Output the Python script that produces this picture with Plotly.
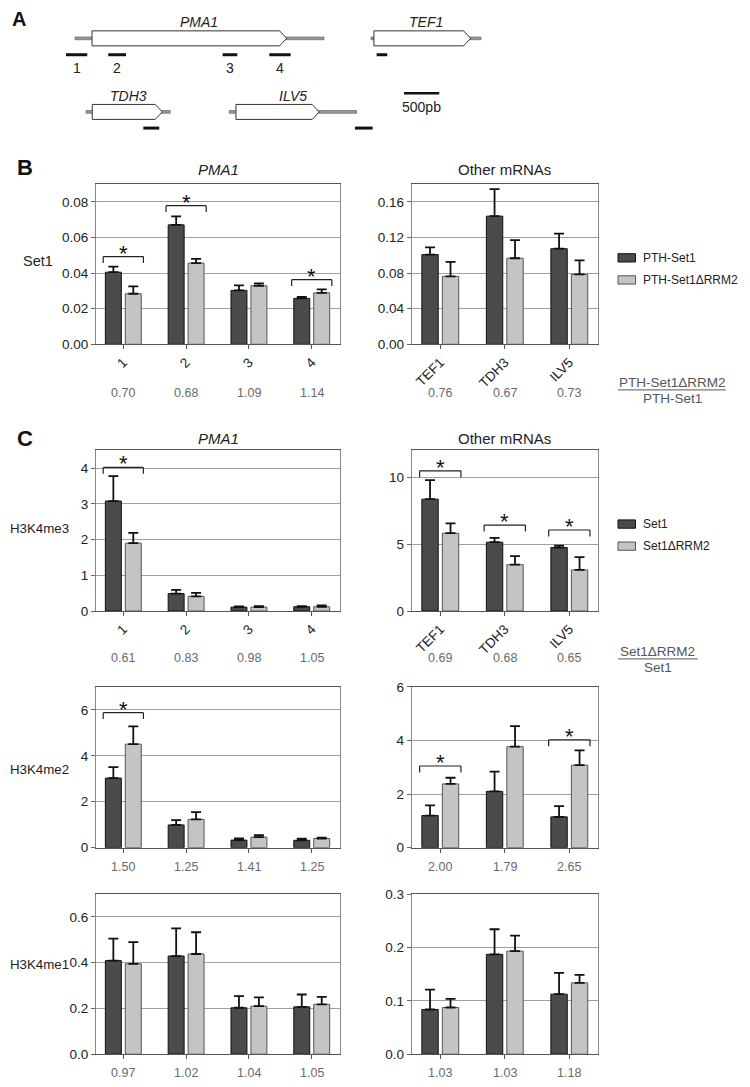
import plotly.graph_objects as go

# the page adds an 8px body margin, so the figure is drawn 16px smaller
# and every position below is given in page pixels, then shifted
OFF = 8
W, H = 750 - 2 * OFF, 1087 - 2 * OFF
FONT = "Liberation Sans, Arial, Helvetica, sans-serif"
NARROW = "Liberation Sans Narrow, Arial Narrow, Liberation Sans, sans-serif"
DARK = "#4b4b4b"
LIGHT = "#c4c4c4"
BP_PER_PX = 500 / 35.33

# ---- data -------------------------------------------------------------
pma1_sites = ["1", "2", "3", "4"]
other_genes = ["TEF1", "TDH3", "ILV5"]

# B  Set1 occupancy (PTH-Set1 / PTH-Set1dRRM2), mean and SE
set1_pma1_wt = [0.0405, 0.0671, 0.0303, 0.0258]
set1_pma1_wt_se = [0.0031, 0.0048, 0.0028, 0.0008]
set1_pma1_mut = [0.0284, 0.0456, 0.0329, 0.0289]
set1_pma1_mut_se = [0.0042, 0.0024, 0.0013, 0.0020]
set1_other_wt = [0.1008, 0.144, 0.1074]
set1_other_wt_se = [0.0082, 0.0304, 0.017]
set1_other_mut = [0.0763, 0.0967, 0.0785]
set1_other_mut_se = [0.0163, 0.0203, 0.0159]
set1_pma1_ratio = ["0.70", "0.68", "1.09", "1.14"]
set1_other_ratio = ["0.76", "0.67", "0.73"]

# C  H3K4me3
me3_pma1_wt = [3.08, 0.49, 0.11, 0.12]
me3_pma1_wt_se = [0.70, 0.10, 0.02, 0.02]
me3_pma1_mut = [1.90, 0.41, 0.11, 0.12]
me3_pma1_mut_se = [0.29, 0.10, 0.03, 0.04]
me3_other_wt = [8.35, 5.14, 4.74]
me3_other_wt_se = [1.43, 0.32, 0.15]
me3_other_mut = [5.81, 3.46, 3.07]
me3_other_mut_se = [0.74, 0.64, 0.96]
me3_pma1_ratio = ["0.61", "0.83", "0.98", "1.05"]
me3_other_ratio = ["0.69", "0.68", "0.65"]

# C  H3K4me2
me2_pma1_wt = [3.03, 0.99, 0.33, 0.32]
me2_pma1_wt_se = [0.48, 0.21, 0.07, 0.07]
me2_pma1_mut = [4.51, 1.23, 0.46, 0.40]
me2_pma1_mut_se = [0.77, 0.32, 0.09, 0.04]
me2_other_wt = [1.20, 2.10, 1.15]
me2_other_wt_se = [0.38, 0.74, 0.40]
me2_other_mut = [2.38, 3.77, 3.08]
me2_other_mut_se = [0.23, 0.77, 0.55]
me2_pma1_ratio = ["1.50", "1.25", "1.41", "1.25"]
me2_other_ratio = ["2.00", "1.79", "2.65"]

# C  H3K4me1
me1_pma1_wt = [0.409, 0.429, 0.203, 0.207]
me1_pma1_wt_se = [0.096, 0.121, 0.051, 0.054]
me1_pma1_mut = [0.395, 0.438, 0.210, 0.218]
me1_pma1_mut_se = [0.095, 0.095, 0.038, 0.033]
me1_other_wt = [0.0838, 0.187, 0.1125]
me1_other_wt_se = [0.037, 0.047, 0.040]
me1_other_mut = [0.0875, 0.193, 0.1336]
me1_other_mut_se = [0.016, 0.029, 0.015]
me1_pma1_ratio = ["0.97", "1.02", "1.04", "1.05"]
me1_other_ratio = ["1.03", "1.03", "1.18"]

# significance brackets: (category index, bracket height)
sig_set1_pma1 = [(0, 0.0493), (1, 0.0779), (3, 0.0363)]
sig_me3_pma1 = [(0, 4.02)]
sig_me3_other = [(0, 10.47), (1, 6.42), (2, 6.05)]
sig_me2_pma1 = [(0, 5.88)]
sig_me2_other = [(0, 3.05), (2, 4.03)]

# A  gene models (bp, position along the drawing row)
gene_names = ["PMA1", "TEF1", "TDH3", "ILV5"]
gene_rows = [0, 0, 1, 1]
gene_tx_start = [1061, 5250, 1217, 3245]
gene_orf_start = [1302, 5292, 1306, 3339]
gene_orf_end = [4057, 6661, 2297, 4518]
gene_tx_end = [4585, 6806, 2410, 5047]
amplicon_labels = ["1", "2", "3", "4", "", "", ""]
amplicon_rows = [0, 0, 0, 0, 0, 1, 1]
amplicon_start = [934, 1532, 3151, 3811, 5330, 2028, 5023]
amplicon_end = [1235, 1783, 3358, 4113, 5480, 2254, 5274]
scale_bar_bp = 500

# ---- helpers ----------------------------------------------------------
def fx(px):
    return (px - OFF) / W


def fy(py):
    return 1 - (py - OFF) / H


fig = go.Figure()
shapes = []
annotations = []

panels = [
    dict(cats=pma1_sites, wt=set1_pma1_wt, wse=set1_pma1_wt_se, mut=set1_pma1_mut,
         mse=set1_pma1_mut_se, ratio=set1_pma1_ratio, yr=[0, 0.09], dt=0.02, fmt=".2f",
         col=0, row=0, sig=sig_set1_pma1, labels=True),
    dict(cats=other_genes, wt=set1_other_wt, wse=set1_other_wt_se, mut=set1_other_mut,
         mse=set1_other_mut_se, ratio=set1_other_ratio, yr=[0, 0.18], dt=0.04, fmt=".2f",
         col=1, row=0, sig=[], labels=True),
    dict(cats=pma1_sites, wt=me3_pma1_wt, wse=me3_pma1_wt_se, mut=me3_pma1_mut,
         mse=me3_pma1_mut_se, ratio=me3_pma1_ratio, yr=[0, 4.5], dt=1, fmt="d",
         col=0, row=1, sig=sig_me3_pma1, labels=True),
    dict(cats=other_genes, wt=me3_other_wt, wse=me3_other_wt_se, mut=me3_other_mut,
         mse=me3_other_mut_se, ratio=me3_other_ratio, yr=[0, 12], dt=5, fmt="d",
         col=1, row=1, sig=sig_me3_other, labels=True),
    dict(cats=pma1_sites, wt=me2_pma1_wt, wse=me2_pma1_wt_se, mut=me2_pma1_mut,
         mse=me2_pma1_mut_se, ratio=me2_pma1_ratio, yr=[0, 7], dt=2, fmt="d",
         col=0, row=2, sig=sig_me2_pma1, labels=False),
    dict(cats=other_genes, wt=me2_other_wt, wse=me2_other_wt_se, mut=me2_other_mut,
         mse=me2_other_mut_se, ratio=me2_other_ratio, yr=[0, 6], dt=2, fmt="d",
         col=1, row=2, sig=sig_me2_other, labels=False),
    dict(cats=pma1_sites, wt=me1_pma1_wt, wse=me1_pma1_wt_se, mut=me1_pma1_mut,
         mse=me1_pma1_mut_se, ratio=me1_pma1_ratio, yr=[0, 0.7], dt=0.2, fmt=".1f",
         col=0, row=3, sig=[], labels=False),
    dict(cats=other_genes, wt=me1_other_wt, wse=me1_other_wt_se, mut=me1_other_mut,
         mse=me1_other_mut_se, ratio=me1_other_ratio, yr=[0, 0.3], dt=0.1, fmt=".1f",
         col=1, row=3, sig=[], labels=False),
]

col_px = [(96, 340), (411.7, 597.7)]
col_xrange = [[-0.435, 3.45], [-0.443, 2.44]]
row_px = [(179.5, 342), (449.5, 612.5), (689.5, 852.5), (899.5, 1062)]
ratio_y = [391, 660, 872, 1081]

layout_axes = {}
for i, p in enumerate(panels, start=1):
    xa, ya = f"x{i}", f"y{i}"
    x0, x1 = col_px[p["col"]]
    y0, y1 = row_px[p["row"]]
    fig.add_trace(go.Bar(
        x=p["cats"], y=p["wt"], xaxis=xa, yaxis=ya, showlegend=False,
        marker=dict(color=DARK, line=dict(color="#111", width=1)),
        error_y=dict(type="data", symmetric=False, array=p["wse"],
                     arrayminus=[0] * len(p["wse"]), color="#111", thickness=1.8, width=5),
        hoverinfo="y",
    ))
    fig.add_trace(go.Bar(
        x=p["cats"], y=p["mut"], xaxis=xa, yaxis=ya, showlegend=False,
        marker=dict(color=LIGHT, line=dict(color="#555", width=1)),
        error_y=dict(type="data", symmetric=False, array=p["mse"],
                     arrayminus=[0] * len(p["mse"]), color="#111", thickness=1.8, width=5),
        hoverinfo="y",
    ))
    sfx = "" if i == 1 else str(i)
    layout_axes[f"xaxis{sfx}"] = dict(
        domain=[fx(x0), fx(x1)], anchor=ya, type="category",
        range=col_xrange[p["col"]], showline=True, mirror=True, linecolor="#555",
        linewidth=1, ticks="outside", ticklen=4, tickcolor="#555", showgrid=False,
        showticklabels=p["labels"], tickangle=-45,
        tickfont=dict(size=13.5, color="#222"), fixedrange=True,
    )
    layout_axes[f"yaxis{sfx}"] = dict(
        domain=[fy(y1), fy(y0)], anchor=xa, range=p["yr"], dtick=p["dt"],
        tickformat=p["fmt"], showline=True, mirror=True, linecolor="#888",
        linewidth=1, ticks="outside", ticklen=4, tickcolor="#666",
        gridcolor="#a0a0a0", gridwidth=1, zeroline=False,
        tickfont=dict(size=13.5, color="#222"), fixedrange=True,
    )
    # ratio row
    for k, r in enumerate(p["ratio"]):
        annotations.append(dict(
            x=k, y=fy(ratio_y[p["row"]]), xref=xa, yref="paper", text=r,
            xanchor="center", yanchor="middle", showarrow=False,
            font=dict(size=12.5, color="#6a6a6a"),
        ))
    # significance brackets
    drop = (p["yr"][1] - p["yr"][0]) * 6.5 / (y1 - y0)
    for k, h in p["sig"]:
        for sx0, sy0, sx1, sy1 in [(k - 0.32, h - drop, k - 0.32, h),
                                   (k - 0.32, h, k + 0.32, h),
                                   (k + 0.32, h, k + 0.32, h - drop)]:
            shapes.append(dict(type="line", xref=xa, yref=ya, x0=sx0, y0=sy0,
                               x1=sx1, y1=sy1, line=dict(color="#222", width=1.2)))
        annotations.append(dict(
            x=k, y=h, xref=xa, yref=ya, text="*", showarrow=False, yanchor="bottom",
            yshift=-11, font=dict(size=22, color="#111"),
        ))

# ---- panel A: gene models on a page-wide overlay axis ------------------
fig.add_trace(go.Scatter(x=[], y=[], xaxis="x9", yaxis="y9", showlegend=False))
layout_axes["xaxis9"] = dict(domain=[0, 1], anchor="y9",
                             range=[OFF * BP_PER_PX, (OFF + W) * BP_PER_PX],
                             visible=False, fixedrange=True)
layout_axes["yaxis9"] = dict(domain=[0, 1], anchor="x9", range=[OFF + H, OFF],
                             visible=False, fixedrange=True)
row_mid = [31.7, 106.3]
row_amp = [48.3, 122.7]
head = 100
for g in range(len(gene_names)):
    yc = row_mid[gene_rows[g]]
    shapes.append(dict(type="rect", xref="x9", yref="y9", x0=gene_tx_start[g],
                       x1=gene_tx_end[g], y0=yc - 1.4, y1=yc + 1.4,
                       fillcolor="#9a9a9a", line=dict(color="#555", width=0.6)))
    a, b = gene_orf_start[g], gene_orf_end[g]
    path = (f"M{a},{yc - 7.6} L{b - head},{yc - 7.6} L{b},{yc} "
            f"L{b - head},{yc + 7.6} L{a},{yc + 7.6} Z")
    shapes.append(dict(type="path", xref="x9", yref="y9", path=path,
                       fillcolor="white", line=dict(color="#333", width=1)))
    annotations.append(dict(
        x=(gene_tx_start[g] + gene_tx_end[g]) / 2, y=yc - 16.5, xref="x9", yref="y9",
        text=f"<i>{gene_names[g]}</i>", showarrow=False,
        font=dict(family=NARROW, size=14, color="#222"),
    ))
for k in range(len(amplicon_start)):
    yc = row_amp[amplicon_rows[k]]
    shapes.append(dict(type="line", xref="x9", yref="y9", x0=amplicon_start[k],
                       x1=amplicon_end[k], y0=yc, y1=yc, line=dict(color="#111", width=3)))
    if amplicon_labels[k]:
        annotations.append(dict(
            x=(amplicon_start[k] + amplicon_end[k]) / 2, y=yc + 13.4, xref="x9", yref="y9",
            text=amplicon_labels[k], showarrow=False,
            font=dict(family=NARROW, size=14, color="#222"),
        ))
sb0 = 5717
shapes.append(dict(type="line", xref="x9", yref="y9", x0=sb0, x1=sb0 + scale_bar_bp,
                   y0=87.3, y1=87.3, line=dict(color="#111", width=2.5)))
annotations.append(dict(x=sb0 + scale_bar_bp / 2, y=101.7, xref="x9", yref="y9",
                        text=f"{scale_bar_bp}pb", showarrow=False,
                        font=dict(family=NARROW, size=14, color="#222")))

# ---- titles, labels, legends ------------------------------------------
def text_px(x, y, s, size=14, color="#222", xanchor="center", bold=False, family=FONT):
    annotations.append(dict(
        x=fx(x), y=fy(y), xref="paper", yref="paper", text=f"<b>{s}</b>" if bold else s,
        showarrow=False, xanchor=xanchor, yanchor="middle",
        font=dict(family=family, size=size, color=color),
    ))


text_px(10, 12, "A", size=20, xanchor="left", bold=True, color="#111")
text_px(15, 163, "B", size=22, xanchor="left", bold=True, color="#111")
text_px(15, 438, "C", size=22, xanchor="left", bold=True, color="#111")
for y in (165, 437.7):
    text_px(218, y, "<i>PMA1</i>", size=15)
    text_px(505, y, "Other mRNAs", size=15)
text_px(20.5, 257.3, "Set1", size=14.5, xanchor="left")
text_px(8, 529, "H3K4me3", size=13.3, xanchor="left")
text_px(8, 773.3, "H3K4me2", size=13.3, xanchor="left")
text_px(8, 970.7, "H3K4me1", size=13.3, xanchor="left")

legends = [(254.3, ["PTH-Set1", "PTH-Set1ΔRRM2"]), (524.3, ["Set1", "Set1ΔRRM2"])]
for y_top, names in legends:
    for j, (name, color, edge) in enumerate(zip(names, [DARK, LIGHT], ["#111", "#555"])):
        yc = y_top + j * 22.4
        shapes.append(dict(type="rect", xref="paper", yref="paper", x0=fx(618),
                           x1=fx(635.5), y0=fy(yc + 4.2), y1=fy(yc - 4.2),
                           fillcolor=color, line=dict(color=edge, width=1)))
        text_px(640.5, yc, name, size=12, xanchor="left")

fractions = [(672, 381, 388.3, 397.3, 618, 725.7, "PTH-Set1ΔRRM2", "PTH-Set1"),
             (657.7, 653.3, 661, 670, 618, 697.7, "Set1ΔRRM2", "Set1")]
for xc, yn, yl, yd, lx0, lx1, num, den in fractions:
    text_px(xc, yn, num, size=13.5, color="#555")
    text_px(xc, yd, den, size=13.5, color="#555")
    shapes.append(dict(type="line", xref="paper", yref="paper", x0=fx(lx0), x1=fx(lx1),
                       y0=fy(yl), y1=fy(yl), line=dict(color="#777", width=1.2)))

fig.update_layout(
    width=W, height=H, margin=dict(l=0, r=0, t=0, b=0),
    paper_bgcolor="white", plot_bgcolor="rgba(0,0,0,0)",
    barmode="group", bargap=0.365, bargroupgap=0.2,
    font=dict(family=FONT, size=13.5, color="#222"),
    shapes=shapes, annotations=annotations, showlegend=False,
    **layout_axes,
)

fig.write_html("out.html")
